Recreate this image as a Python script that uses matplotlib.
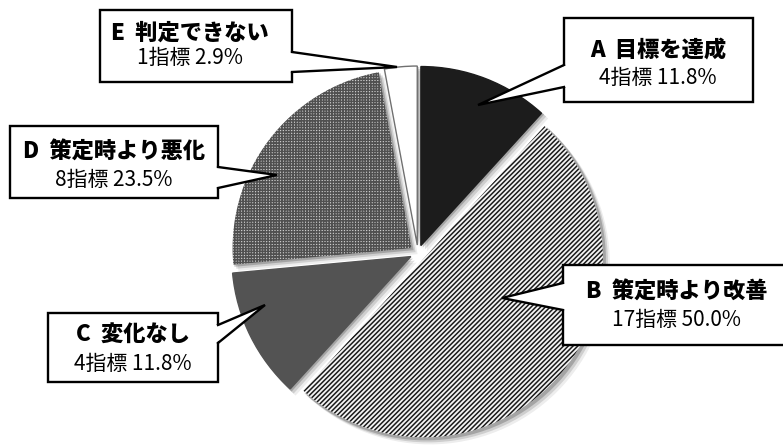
import matplotlib.pyplot as plt
from matplotlib.patches import Rectangle, Polygon

plt.rcParams['font.family'] = ['Noto Sans CJK JP', 'DejaVu Sans']
plt.rcParams['hatch.linewidth'] = 1.1

# data
categories = ['A  目標を達成', 'B  策定時より改善', 'C  変化なし',
              'D  策定時より悪化', 'E  判定できない']
counts = [4, 17, 4, 8, 1]
total = sum(counts)
sub_labels = [f'{c}指標 {c / total * 100:.1f}%' for c in counts]

# styles
face_colors = ['#1c1c1c', '#f4f4f4', '#535353', '#d0d0d0', '#ffffff']
edge_colors = ['#1c1c1c', '#1a1a1a', '#535353', '#505050', '#707070']
hatches = [None, '///////', None, '++++++', None]

# pie placement in pixel coords (y down); explode in pixels
cx, cy, r = 418, 253, 179
gap = 8
explode = [gap] * 5

# callout layout: box (x0, y0, x1, y1), base points on box edge, tip
boxes = [
    (564, 18, 753, 102),
    (563, 265, 795, 345),
    (48, 313, 218, 382),
    (10, 126, 218, 198),
    (100, 10, 292, 82),
]
bases = [
    ((564, 65), (564, 87)),
    ((563, 283), (563, 310)),
    ((218, 325), (218, 343)),
    ((218, 167), (218, 188)),
    ((292, 52), (292, 72)),
]
tips = [(478, 105), (502, 298), (265, 305), (277, 175), (397, 67)]
text_x = [658, 677, 133, 114, 190]
title_y = [50, 292, 334, 152, 33]
sub_y = [78, 320, 364, 180, 58]

fig = plt.figure(figsize=(7.83, 4.45), dpi=100)
ax = fig.add_axes([0, 0, 1, 1])

# soft shadow made of a few offset grey pies
for off, a in [(2, 0.2), (4, 0.13), (6, 0.07)]:
    sh, _ = ax.pie(counts, explode=explode, startangle=-90, counterclock=True,
                   center=(cx + off, cy + off), radius=r + 1,
                   colors=['#000000'] * 5, frame=True)
    for w in sh:
        w.set_alpha(a)
        w.set_linewidth(0)
        w.set_zorder(1)

wedges, _ = ax.pie(counts, explode=explode, startangle=-90, counterclock=True,
                   center=(cx, cy), radius=r, colors=face_colors, frame=True)
for w, ec, h in zip(wedges, edge_colors, hatches):
    w.set_edgecolor(ec)
    w.set_zorder(2)
    if h:
        w.set_hatch(h)
        w.set_linewidth(0)
    else:
        w.set_linewidth(1.0)

for i in range(len(categories)):
    x0, y0, x1, y1 = boxes[i]
    ax.add_patch(Rectangle((x0, y0), x1 - x0, y1 - y0, facecolor='white',
                           edgecolor='black', linewidth=1.7, zorder=5))
    b1, b2 = bases[i]
    sign = 1 if tips[i][0] < x0 else -1
    b1i = (b1[0] + 2 * sign, b1[1])
    b2i = (b2[0] + 2 * sign, b2[1])
    ax.add_patch(Polygon([b1i, tips[i], b2i], closed=True, facecolor='white',
                         edgecolor='none', zorder=6))
    ax.plot([b1[0], tips[i][0], b2[0]], [b1[1], tips[i][1], b2[1]],
            color='black', linewidth=1.7, zorder=7, solid_joinstyle='miter')
    ax.text(text_x[i], title_y[i], categories[i], ha='center', va='center',
            fontsize=16, fontweight='heavy', zorder=8)
    ax.text(text_x[i], sub_y[i], sub_labels[i], ha='center', va='center',
            fontsize=15, zorder=8)

ax.set_xlim(0, 783)
ax.set_ylim(445, 0)
ax.set_aspect('equal')
ax.axis('off')

fig.savefig('out.png', dpi=100)
